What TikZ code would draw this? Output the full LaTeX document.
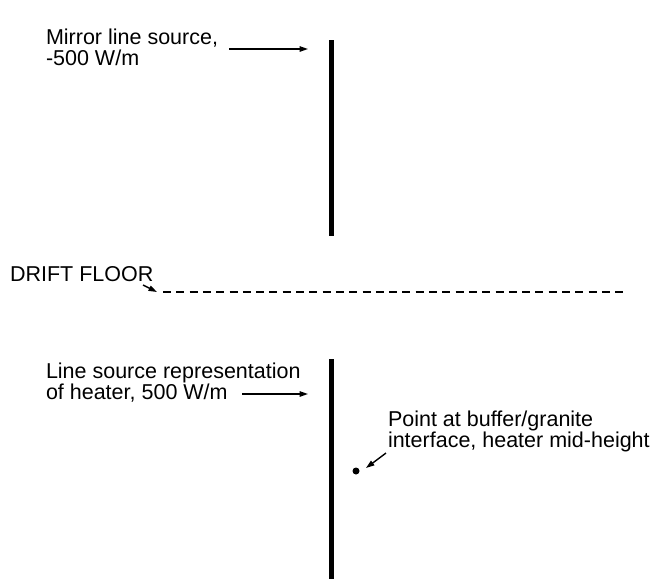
\documentclass[tikz,border=0pt]{standalone}
\usepackage{fontspec}
\setmainfont{Liberation Sans}
\usetikzlibrary{arrows.meta}
\begin{document}
\begin{tikzpicture}[x=1pt,y=-1pt,
  lbl/.style={inner sep=0pt,outer sep=0pt,align=left,anchor=base west,
    font=\fontsize{21.5}{20.5}\selectfont},
  bar/.style={line width=4.5pt},
  pointer/.style={line width=1.4pt,-{Triangle[length=8.5pt,width=5.5pt]}},
  floorline/.style={line width=2pt,dash pattern=on 8pt off 5.3pt}]
\useasboundingbox (0,0) rectangle (654,579);
% vertical line sources
\coordinate (mtop) at (331.5,40);
\coordinate (mbot) at (331.5,236);
\coordinate (htop) at (331.5,359);
\coordinate (hbot) at (331.5,579);
\draw[bar] (mtop) -- (mbot);
\draw[bar] (htop) -- (hbot);
% drift floor
\coordinate (fl) at (163,292);
\coordinate (fr) at (623,292);
\draw[floorline] (fl) -- (fr);
% labels (anchor = baseline of last line)
\node[lbl] (mirror) at (46,65) {Mirror line source,\\-500 W/m};
\node[lbl] (drift) at (10,281) {DRIFT FLOOR};
\node[lbl] (heater) at (46,399) {Line source representation\\of heater, 500 W/m};
\node[lbl] (point) at (388,447) {Point at buffer/granite\\interface, heater mid-height};
% point
\node[circle,fill,inner sep=0pt,minimum size=7pt] (dot) at (356,471) {};
% arrows
\coordinate (a1s) at (229,49);
\coordinate (a1e) at (308,49);
\coordinate (a2s) at (242,394);
\coordinate (a2e) at (308,394);
\coordinate (a3s) at (143,285);
\coordinate (a3e) at (157,292);
\coordinate (a4s) at (386,453);
\coordinate (a4e) at (366,468);
\draw[pointer] (a1s) -- (a1e);
\draw[pointer] (a2s) -- (a2e);
\draw[pointer] (a3s) -- (a3e);
\draw[pointer] (a4s) -- (a4e);
\end{tikzpicture}
\end{document}
